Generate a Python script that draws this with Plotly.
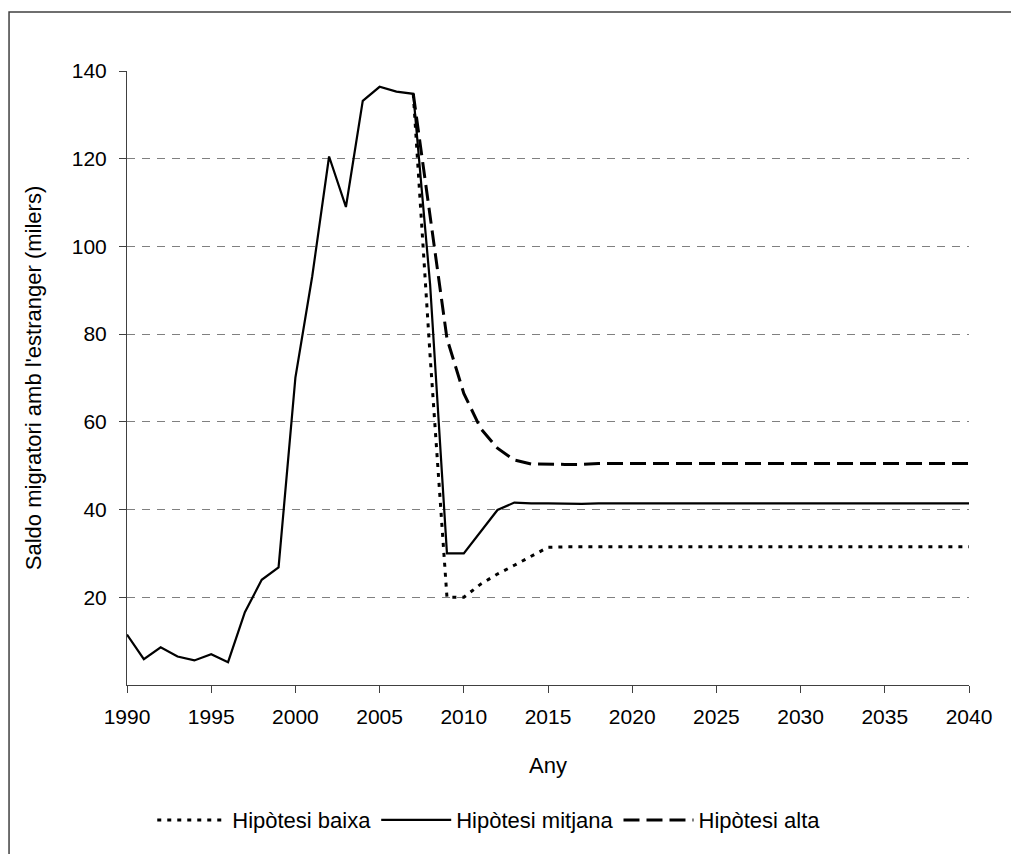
import plotly.graph_objects as go

# years on the x axis
years = list(range(1990, 2041))

# saldo migratori amb l'estranger (milers) - historical + hipòtesi mitjana
mitjana = [11.5, 5.9, 8.6, 6.5, 5.6, 7.0, 5.2, 16.6, 24.0, 26.8,
           70.1, 93.2, 120.5, 109.0, 133.2, 136.4, 135.3, 134.8, 91.3, 30.0,
           30.0, 35.0, 39.9, 41.6, 41.4, 41.4, 41.3, 41.3, 41.4, 41.4,
           41.4, 41.4, 41.4, 41.4, 41.4, 41.4, 41.4, 41.4, 41.4, 41.4,
           41.4, 41.4, 41.4, 41.4, 41.4, 41.4, 41.4, 41.4, 41.4, 41.4,
           41.4]

# projections start in 2007
proj_years = list(range(2007, 2041))
baixa = [134.8, 75.0, 20.0, 20.0, 23.0, 25.3, 27.3, 29.4, 31.4, 31.5,
         31.5, 31.5, 31.5, 31.5, 31.5, 31.5, 31.5, 31.5, 31.5, 31.5,
         31.5, 31.5, 31.5, 31.5, 31.5, 31.5, 31.5, 31.5, 31.5, 31.5,
         31.5, 31.5, 31.5, 31.5]
alta = [134.8, 106.5, 79.0, 66.5, 58.5, 54.0, 51.3, 50.4, 50.3, 50.3,
        50.3, 50.5, 50.5, 50.5, 50.5, 50.5, 50.5, 50.5, 50.5, 50.5,
        50.5, 50.5, 50.5, 50.5, 50.5, 50.5, 50.5, 50.5, 50.5, 50.5,
        50.5, 50.5, 50.5, 50.5]

x_ticks = [1990, 1995, 2000, 2005, 2010, 2015, 2020, 2025, 2030, 2035, 2040]
y_ticks = [20, 40, 60, 80, 100, 120, 140]

FONT = "Liberation Sans, Arial, sans-serif"

fig = go.Figure()
fig.add_trace(go.Scatter(x=proj_years, y=baixa, mode="lines", name="Hipòtesi baixa",
                         line=dict(color="black", width=3, dash="4px,6px")))
fig.add_trace(go.Scatter(x=years, y=mitjana, mode="lines", name="Hipòtesi mitjana",
                         line=dict(color="black", width=2.2)))
fig.add_trace(go.Scatter(x=proj_years, y=alta, mode="lines", name="Hipòtesi alta",
                         line=dict(color="black", width=3, dash="16px,7px")))

# outer chart frame (right/bottom edges fall outside the picture)
fig.add_shape(type="rect", xref="paper", yref="paper",
              x0=-0.1401, x1=1.2, y0=-0.4, y1=1.0961,
              line=dict(color="#404040", width=1.5), layer="below")

# the page adds an 8px body margin, so margins are shifted by 8px
fig.update_layout(
    width=1019, height=854,
    margin=dict(l=119, r=58, t=63, b=177),
    paper_bgcolor="white", plot_bgcolor="white",
    font=dict(family=FONT, size=21, color="black"),
    showlegend=True,
    legend=dict(orientation="h", x=0.03, xanchor="left", y=-0.22, yanchor="middle",
                itemwidth=70, font=dict(size=22), bgcolor="rgba(0,0,0,0)",
                tracegroupgap=0),
)
fig.update_xaxes(range=[1990, 2040], tickvals=x_ticks, showgrid=False,
                 showline=True, linecolor="#404040", linewidth=1,
                 ticks="outside", ticklen=7, tickcolor="#404040",
                 ticklabelstandoff=6, zeroline=False,
                 title=dict(text="Any", standoff=30, font=dict(size=22)))
fig.update_yaxes(range=[0, 140], tickvals=y_ticks, showgrid=True,
                 gridcolor="#808080", gridwidth=1, griddash="8px,7px",
                 showline=True, linecolor="#404040", linewidth=1,
                 ticks="outside", ticklen=7, tickcolor="#404040",
                 ticklabelstandoff=8, zeroline=False,
                 title=dict(text="Saldo migratori amb l'estranger (milers)",
                            standoff=24, font=dict(size=22)))

fig.write_html("out.html")
